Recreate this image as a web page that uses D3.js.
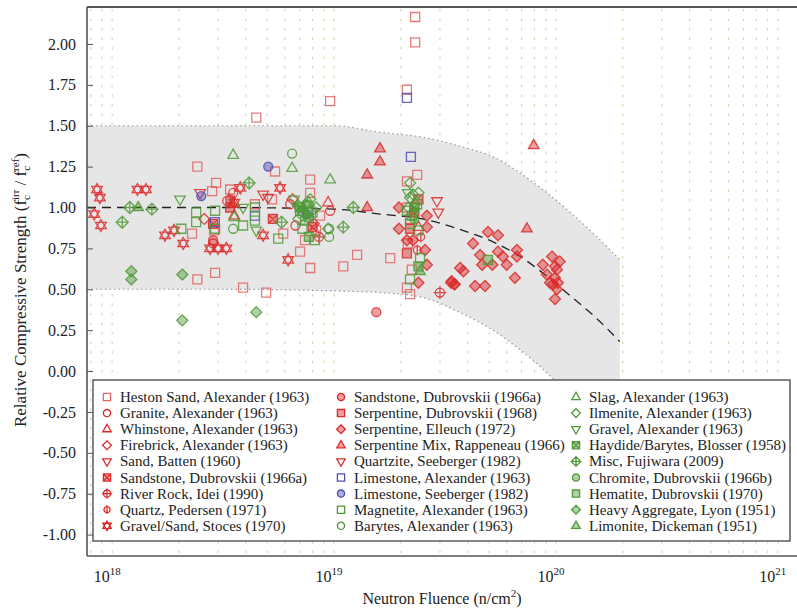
<!DOCTYPE html>
<html><head><meta charset="utf-8">
<script src="https://cdn.jsdelivr.net/npm/d3@7"></script>
<style>body{margin:0;background:#fff}svg{display:block}</style>
</head><body><svg id="c" width="797" height="610"></svg>
<script>
// ---------- data ----------
const xTickValues = [1e18, 1e19, 1e20, 1e21];
const xTickExps = ["18", "19", "20", "21"];
const yTickValues = [-1, -0.75, -0.5, -0.25, 0, 0.25, 0.5, 0.75, 1, 1.25, 1.5, 1.75, 2];
const gridFluence = [8e17, 9e17, 1e18, 2e18, 3e18, 4e18, 5e18, 6e18, 7e18, 8e18, 9e18, 1e19, 2e19, 3e19, 4e19, 5e19, 6e19, 7e19, 8e19, 9e19, 1e20, 2e20, 3e20, 4e20, 5e20, 6e20, 7e20, 8e20, 9e20, 1e21];

const bandFluence = [7.7e17, 1e18, 3e18, 1e19, 1.61e19, 2.5e19, 3.8e19, 5.2e19, 6.9e19, 9.1e19, 1.16e20, 1.53e20, 1.94e20];
const bandUpper   = [1.50, 1.50, 1.50, 1.50, 1.46, 1.43, 1.37, 1.31, 1.21, 1.09, 0.97, 0.82, 0.68];
const bandLower   = [0.50, 0.50, 0.50, 0.49, 0.48, 0.45, 0.35, 0.25, 0.13, -0.01, -0.16, -0.36, -0.56];
const fitMean     = [1.00, 1.00, 1.00, 0.99, 0.96, 0.93, 0.86, 0.79, 0.70, 0.58, 0.46, 0.32, 0.18];

const hestonSand = [[2.32e19,2.165],[2.32e19,2.01],[2.13e19,1.72],[9.6e18,1.65],[4.46e18,1.55],[2.42e18,1.25],[5.42e18,1.22],[7.8e18,1.17],[7.8e18,1.09],[2.94e18,1.15],[2.82e18,1.10],[2.29e18,0.84],[2.88e18,0.86],[2.42e18,0.56],[2.91e18,0.60],[3.89e18,0.51],[4.94e18,0.48],[7.03e18,0.73],[7.8e18,0.63],[1.10e19,0.64],[1.27e19,0.71],[2.13e19,1.16],[2.37e19,1.20],[1.79e19,0.69],[2.24e19,0.62],[2.13e19,0.51],[2.2e19,0.47],[5.25e18,1.05],[8.65e18,0.95],[7.4e18,0.80],[2.13e19,1.0],[3.4e18,1.11],[4.4e18,1.02],[5.9e18,0.84],[8.3e18,0.86],[2.2e19,0.93],[2.15e19,0.78]];
const granite = [[3.51e18,1.09],[2.85e18,0.78],[9.6e18,0.98],[6.34e18,1.02],[6.7e18,0.89],[3.3e18,1.04]];
const whinstone = [[3.55e18,0.95],[9.4e18,1.03],[2.4e19,0.88]];
const firebrick = [[6.5e18,1.05],[8.1e18,0.90],[2.6e18,0.93]];
const sandBatten = [[2.49e18,1.09],[4.79e18,1.08],[5.04e18,1.06]];
const sandstoneBox = [[2.85e18,0.90],[5.3e18,0.93],[8.0e18,0.88],[2.3e19,0.97]];
const riverRock = [[8.55e18,0.82],[3.0e19,0.48]];
const quartz = [[2.37e19,0.74],[2.46e19,0.82]];
const gravelSand = [[8.55e17,1.11],[8.8e17,1.06],[8.3e17,0.96],[8.9e17,0.89],[1.30e18,1.11],[1.42e18,1.11],[1.73e18,0.83],[1.9e18,0.86],[2.09e18,0.78],[2.76e18,0.75],[3.0e18,0.75],[3.27e18,0.75],[3.78e18,1.12],[3.55e18,1.03],[5.71e18,1.12],[4.79e18,0.83],[6.21e18,0.68]];
const sandstoneDub = [[1.55e19,0.36],[2.85e18,0.80],[3.4e18,1.05]];
const serpDub = [[2.2e19,0.87],[2.13e19,0.72],[2.4e19,1.05],[3.4e18,1.0]];
const serpElleuch = [[1.96e19,1.0],[2.62e19,0.95],[1.96e19,0.87],[2.62e19,0.88],[2.13e19,0.80],[2.27e19,0.80],[2.57e19,0.74],[2.62e19,0.65],[2.4e19,0.54],[3.37e19,0.54],[3.5e19,0.53],[4.94e19,0.85],[5.48e19,0.83],[4.23e19,0.78],[6.67e19,0.74],[5.48e19,0.73],[4.55e19,0.71],[5.77e19,0.70],[6.67e19,0.70],[4.65e19,0.65],[5.17e19,0.65],[6.0e19,0.65],[3.7e19,0.63],[3.83e19,0.61],[6.53e19,0.57],[3.39e19,0.55],[3.48e19,0.53],[4.32e19,0.52],[4.79e19,0.52],[9.6e19,0.70],[8.73e19,0.65],[9.1e19,0.59],[9.9e19,0.64],[1.01e20,0.62],[9.9e19,0.57],[1.02e20,0.54],[9.7e19,0.53],[1.01e20,0.50],[9.9e19,0.44],[1.04e20,0.67],[9.4e19,0.54]];
const serpMix = [[1.61e19,1.36],[1.61e19,1.28],[1.41e19,1.20],[1.41e19,1.0],[7.94e19,1.38],[7.4e19,0.87],[3.5e18,1.02]];
const quartzite = [[2.91e19,1.04],[2.95e19,0.97]];
const limestoneAlex = [[2.13e19,1.67],[2.22e19,1.31],[4.4e18,0.95],[2.9e18,0.91],[7.6e18,0.97]];
const limestoneSee = [[5.05e18,1.25],[2.52e18,1.07],[7.5e18,0.96]];
const magnetite = [[2.39e18,0.97],[2.39e18,0.91],[2.91e18,0.98],[2.91e18,0.87],[2.05e18,0.87],[3.89e18,0.89],[5.6e18,0.81],[4.4e18,1.0],[2.13e19,0.98],[2.24e19,0.95],[2.37e19,1.02],[2.4e19,0.86],[2.44e19,0.69],[2.2e19,0.56],[7.03e18,0.98],[7.4e18,0.92],[8.0e18,0.97],[7.2e18,0.87],[8.2e18,0.80],[4.4e18,0.92],[7.6e18,1.01],[2.2e19,0.90]];
const barytes = [[6.47e18,1.33],[9.5e18,0.82],[9.5e18,0.87],[3.51e18,0.87],[7.9e18,0.98]];
const slag = [[3.51e18,1.32],[6.47e18,1.24],[9.6e18,1.17],[3.55e18,0.94],[7.7e18,1.03]];
const ilmenite = [[2.2e19,1.15],[2.4e19,1.09],[2.27e19,1.08],[2.2e19,1.06],[2.16e19,1.0],[2.32e19,1.02],[9.4e18,0.87],[7.2e18,0.95],[8.3e18,1.0],[7.8e18,1.05],[6.9e18,0.93]];
const gravel = [[2.02e18,1.05],[3.89e18,1.0],[4.46e18,0.86],[6.6e18,1.05],[2.15e19,1.09]];
const haydide = [[7.0e18,1.0],[7.7e18,0.94],[2.3e19,1.0]];
const miscFujiwara = [[1.2e18,1.0],[1.51e18,0.99],[1.11e18,0.91],[4.14e18,1.15],[1.10e19,0.88],[1.22e19,1.0],[5.8e18,0.91],[6.9e18,1.01]];
const chromite = [[7.5e18,1.02],[2.3e19,0.93]];
const hematite = [[4.94e19,0.68],[2.4e19,0.64],[7.7e18,0.82]];
const heavyAgg = [[1.22e18,0.61],[1.22e18,0.56],[2.07e18,0.59],[2.07e18,0.31],[4.46e18,0.36]];
const limonite = [[1.31e18,1.0],[2.44e19,0.61],[7.3e18,0.99]];

const R = "#dc2a2a", RL = "#e36464", G = "#4f9a37", B = "#4d4db8";
const series = [
 {name:"Heston Sand, Alexander (1963)", data:hestonSand, shape:"square", color:RL, fill:false},
 {name:"Granite, Alexander (1963)", data:granite, shape:"circle", color:R, fill:false},
 {name:"Whinstone, Alexander (1963)", data:whinstone, shape:"triUp", color:R, fill:false},
 {name:"Firebrick, Alexander (1963)", data:firebrick, shape:"diamond", color:R, fill:false},
 {name:"Sand, Batten (1960)", data:sandBatten, shape:"triDown", color:R, fill:false},
 {name:"Sandstone, Dubrovskii (1966a)", data:sandstoneBox, shape:"boxX", color:R, fill:true},
 {name:"River Rock, Idei (1990)", data:riverRock, shape:"circlePlus", color:R, fill:false},
 {name:"Quartz, Pedersen (1971)", data:quartz, shape:"circleBar", color:R, fill:false},
 {name:"Gravel/Sand, Stoces (1970)", data:gravelSand, shape:"hexagram", color:R, fill:false},
 {name:"Sandstone, Dubrovskii (1966a)", data:sandstoneDub, shape:"circle", color:R, fill:true},
 {name:"Serpentine, Dubrovskii (1968)", data:serpDub, shape:"square", color:R, fill:true},
 {name:"Serpentine, Elleuch (1972)", data:serpElleuch, shape:"diamond", color:R, fill:true},
 {name:"Serpentine Mix, Rappeneau (1966)", data:serpMix, shape:"triUp", color:R, fill:true},
 {name:"Quartzite, Seeberger (1982)", data:quartzite, shape:"triDown", color:R, fill:false},
 {name:"Limestone, Alexander (1963)", data:limestoneAlex, shape:"square", color:B, fill:false},
 {name:"Limestone, Seeberger (1982)", data:limestoneSee, shape:"circle", color:B, fill:true},
 {name:"Magnetite, Alexander (1963)", data:magnetite, shape:"square", color:G, fill:false},
 {name:"Barytes, Alexander (1963)", data:barytes, shape:"circle", color:G, fill:false},
 {name:"Slag, Alexander (1963)", data:slag, shape:"triUp", color:G, fill:false},
 {name:"Ilmenite, Alexander (1963)", data:ilmenite, shape:"diamond", color:G, fill:false},
 {name:"Gravel, Alexander (1963)", data:gravel, shape:"triDown", color:G, fill:false},
 {name:"Haydide/Barytes, Blosser (1958)", data:haydide, shape:"boxX", color:G, fill:true},
 {name:"Misc, Fujiwara (2009)", data:miscFujiwara, shape:"diamondPlus", color:G, fill:false},
 {name:"Chromite, Dubrovskii (1966b)", data:chromite, shape:"circle", color:G, fill:true},
 {name:"Hematite, Dubrovskii (1970)", data:hematite, shape:"square", color:G, fill:true},
 {name:"Heavy Aggregate, Lyon (1951)", data:heavyAgg, shape:"diamond", color:G, fill:true},
 {name:"Limonite, Dickeman (1951)", data:limonite, shape:"triUp", color:G, fill:true}
];

// ---------- layout ----------
const FF = "\"Liberation Serif\", \"Times New Roman\", serif";
const L = 87, T = 7, Rt = 797, Bm = 556;
const svg = d3.select("#c").style("font-family", FF);
const x = d3.scaleLog().domain([7.7e17, 1.22e21]).range([L, Rt]);
const y = d3.scaleLinear().domain([-1.131, 2.226]).range([Bm, T]);

svg.append("defs").append("clipPath").attr("id","clip")
  .append("rect").attr("x",L).attr("y",T).attr("width",Rt-L).attr("height",Bm-T);

// grid
svg.append("g").selectAll("line").data(gridFluence).join("line")
  .attr("x1",d=>x(d)).attr("x2",d=>x(d)).attr("y1",T+2).attr("y2",Bm)
  .attr("stroke","#d8d2a2").attr("stroke-width",1.1).attr("stroke-dasharray","2.5,7");

// band
const bandData = bandFluence.map((f,i)=>({f, u:bandUpper[i], l:bandLower[i], m:fitMean[i]}));
const gb = svg.append("g").attr("clip-path","url(#clip)");
gb.append("path").datum(bandData)
  .attr("d", d3.area().x(d=>x(d.f)).y0(d=>y(d.l)).y1(d=>y(d.u)).curve(d3.curveMonotoneX))
  .attr("fill","#e6e6e6");
["u","l"].forEach(k=>{
  gb.append("path").datum(bandData)
    .attr("d", d3.line().x(d=>x(d.f)).y(d=>y(d[k])).curve(d3.curveMonotoneX))
    .attr("fill","none").attr("stroke","#999").attr("stroke-width",1.2).attr("stroke-dasharray","1.5,3");
});
gb.append("path").datum(bandData)
  .attr("d", d3.line().x(d=>x(d.f)).y(d=>y(d.m)).curve(d3.curveMonotoneX))
  .attr("fill","none").attr("stroke","#222").attr("stroke-width",1.3).attr("stroke-dasharray","9,6");

// shapes
function shapePath(s, k){
  k = k||1;
  const a=4.5*k, t=6*k, w=5.3*k, h=3.2*k, d=5.5*k, c=4.5*k;
  const circ = r=>`M${r},0A${r},${r} 0 1,1 ${-r},0A${r},${r} 0 1,1 ${r},0Z`;
  switch(s){
    case "square": return `M${-a},${-a}h${2*a}v${2*a}h${-2*a}Z`;
    case "circle": return circ(c);
    case "triUp": return `M0,${-t}L${w},${h}L${-w},${h}Z`;
    case "triDown": return `M0,${t}L${w},${-h}L${-w},${-h}Z`;
    case "diamond": return `M0,${-d}L${d},0L0,${d}L${-d},0Z`;
    case "boxX": return `M${-a},${-a}h${2*a}v${2*a}h${-2*a}ZM${-a},${-a}L${a},${a}M${a},${-a}L${-a},${a}`;
    case "circlePlus": return circ(c)+`M${-6.5*k},0H${6.5*k}M0,${-6.5*k}V${6.5*k}`;
    case "circleBar": return circ(3.8*k)+`M0,${-5.5*k}V${5.5*k}`;
    case "hexagram": return `M0,${-t}L${w},${h}L${-w},${h}ZM0,${t}L${w},${-h}L${-w},${-h}Z`;
    case "diamondPlus": return `M0,${-6*k}L${6*k},0L0,${6*k}L${-6*k},0ZM${-6*k},0H${6*k}M0,${-6*k}V${6*k}`;
  }
}

// points
const gp = svg.append("g").attr("clip-path","url(#clip)");
series.forEach(s=>{
  gp.append("g").selectAll("path").data(s.data).join("path")
    .attr("transform",d=>`translate(${x(d[0])},${y(d[1])})`)
    .attr("d",shapePath(s.shape))
    .attr("fill",s.fill?s.color:"none").attr("fill-opacity",s.fill?0.45:0)
    .attr("stroke",s.color).attr("stroke-width",1.3).attr("stroke-opacity",0.85);
});

// frame
svg.append("line").attr("x1",L).attr("x2",Rt).attr("y1",T).attr("y2",T).attr("stroke","#555").attr("stroke-width",2.2);
svg.append("line").attr("x1",L).attr("x2",L).attr("y1",T).attr("y2",Bm).attr("stroke","#555").attr("stroke-width",1.6);
svg.append("line").attr("x1",L).attr("x2",Rt).attr("y1",Bm).attr("y2",Bm).attr("stroke","#555").attr("stroke-width",1.6);

// y axis
const ya = svg.append("g").attr("transform",`translate(${L},0)`)
  .call(d3.axisLeft(y).tickValues(yTickValues).tickFormat(d=>d3.format(".2f")(d).replace("\u2212","-")).tickSize(-6).tickPadding(11));
ya.attr("font-family", null);
ya.select(".domain").remove();
ya.selectAll("line").attr("stroke","#555");
ya.selectAll("text").style("font-size","16px").style("font-family",FF).attr("fill","#222");

// x axis labels
const xa = svg.append("g");
xTickValues.forEach((v,i)=>{
  const t = xa.append("text").attr("x",x(v)-5).attr("y",582).attr("text-anchor","middle")
    .style("font-size","16px").style("font-family",FF).attr("fill","#222");
  t.append("tspan").text("10");
  t.append("tspan").attr("dy",-7).style("font-size","11px").text(xTickExps[i]);
});
const xt = svg.append("text").attr("x",442).attr("y",604).attr("text-anchor","middle")
  .style("font-size","16px").style("font-family",FF).attr("fill","#222");
xt.append("tspan").text("Neutron Fluence (n/cm");
xt.append("tspan").attr("dy",-7).style("font-size","11px").text("2");
xt.append("tspan").attr("dy",7).text(")");

// y title
const yt = svg.append("text").attr("transform","translate(26,290) rotate(-90)").attr("text-anchor","middle")
  .style("font-size","17px").style("font-family",FF).attr("fill","#222");
yt.append("tspan").text("Relative Compressive Strength (f");
yt.append("tspan").attr("dy",4).style("font-size","11px").text("c");
yt.append("tspan").attr("dx",-5).attr("dy",-11).style("font-size","11px").text("irr");
yt.append("tspan").attr("dy",7).text(" / f");
yt.append("tspan").attr("dy",4).style("font-size","11px").text("c");
yt.append("tspan").attr("dx",-5).attr("dy",-11).style("font-size","11px").text("ref");
yt.append("tspan").attr("dy",7).text(")");

// legend
const lg = svg.append("g");
lg.append("rect").attr("x",93).attr("y",380).attr("width",697).attr("height",161)
  .attr("fill","#fff").attr("stroke","#444").attr("stroke-width",1.3);
const colX = [107, 341, 576];
series.forEach((s,i)=>{
  const col = Math.floor(i/9), row = i%9;
  const cx = colX[col], cy = 397 + row*16.1;
  lg.append("path").attr("transform",`translate(${cx},${cy})`).attr("d",shapePath(s.shape,0.8))
    .attr("fill",s.fill?s.color:"none").attr("fill-opacity",s.fill?0.45:0)
    .attr("stroke",s.color).attr("stroke-width",1.3);
  lg.append("text").attr("x",cx+13).attr("y",cy+5).style("font-size","15px").style("font-family",FF)
    .attr("fill","#222").text(s.name);
});
</script></body></html>
